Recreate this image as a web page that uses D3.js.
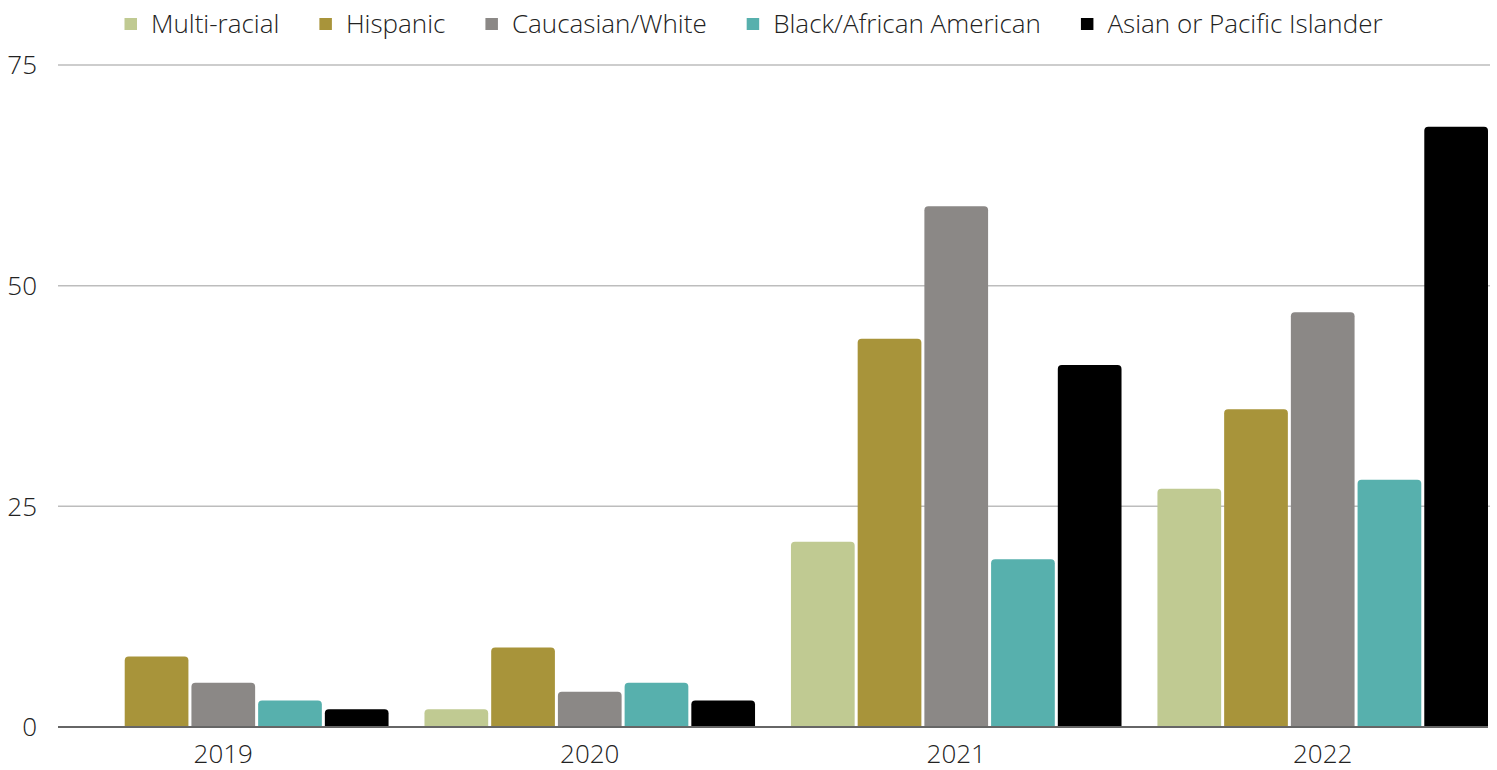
<!DOCTYPE html>
<html lang="en">
<head>
<meta charset="UTF-8">
<script src="https://d3js.org/d3.v7.min.js"></script>
<style>
  body { margin: 0; background: #fff; }
  text { font-family: "Open Sans", sans-serif; font-weight: 300; fill: #222; }
</style>
</head>
<body>
<div id="canvas"></div>
<script>
const years = ["2019", "2020", "2021", "2022"]
const groups = ["Multi-racial", "Hispanic", "Caucasian/White", "Black/African American", "Asian or Pacific Islander"]
const colors = ["#c0ca92", "#a8943a", "#8b8886", "#57b0ad", "#000000"]
const multiRacial = [0, 2, 21, 27]
const hispanic = [8, 9, 44, 36]
const caucasian = [5, 4, 59, 47]
const black = [3, 5, 19, 28]
const asian = [2, 3, 41, 68]
const yTicks = [0, 25, 50, 75]

const series = [multiRacial, hispanic, caucasian, black, asian]

const W = 1497, H = 770
const plotLeft = 58, plotRight = 1488, plotTop = 65, plotBottom = 727
const fs = 26

const svg = d3.select("#canvas").append("svg").attr("width", W).attr("height", H)

const x = d3.scaleBand().domain(years).range([plotLeft, plotRight]).paddingInner(0.098).paddingOuter(0)
const x1 = d3.scaleBand().domain(d3.range(groups.length)).range([0, x.bandwidth()]).paddingInner(0.045)
const y = d3.scaleLinear().domain([0, 75]).range([plotBottom, plotTop])

// grid
svg.append("g").selectAll("line").data(yTicks.filter(d => d > 0)).enter().append("line")
  .attr("x1", plotLeft).attr("x2", 1490)
  .attr("y1", d => y(d)).attr("y2", d => y(d))
  .attr("stroke", "#bdbdbd").attr("stroke-width", 1.5)

svg.append("g").selectAll("text").data(yTicks).enter().append("text")
  .attr("x", 37).attr("y", d => y(d)).attr("dy", "0.36em")
  .attr("text-anchor", "end").attr("font-size", fs)
  .text(d => d)

function topRounded(x0, y0, w, h, r) {
  r = Math.min(r, h, w / 2)
  if (h <= 0) return ""
  return `M${x0},${y0 + h} V${y0 + r} Q${x0},${y0} ${x0 + r},${y0} H${x0 + w - r} Q${x0 + w},${y0} ${x0 + w},${y0 + r} V${y0 + h} Z`
}

const yearG = svg.selectAll(".year").data(years).enter().append("g")
  .attr("transform", d => `translate(${x(d)},0)`)

yearG.selectAll("path").data((d, i) => series.map((s, k) => ({ k: k, v: s[i] })).filter(e => e.v > 0))
  .enter().append("path")
  .attr("d", e => topRounded(x1(e.k), y(e.v), x1.bandwidth(), y(0) - y(e.v), 4))
  .attr("fill", e => colors[e.k])

// baseline
svg.append("line").attr("x1", plotLeft).attr("x2", plotRight)
  .attr("y1", y(0)).attr("y2", y(0))
  .attr("stroke", "#666").attr("stroke-width", 2)

yearG.append("text")
  .attr("x", x.bandwidth() / 2).attr("y", 763)
  .attr("text-anchor", "middle").attr("font-size", fs)
  .text(d => d)

// legend
const legend = svg.append("g")
let lx = 124.5
groups.forEach((g, i) => {
  legend.append("rect").attr("x", lx).attr("y", 18).attr("width", 12.5).attr("height", 12).attr("fill", colors[i])
  const t = legend.append("text").attr("x", lx + 26.5).attr("y", 33)
    .attr("font-size", fs).text(g)
  lx += 26.5 + t.node().getComputedTextLength() + 40
})
</script>
</body>
</html>
